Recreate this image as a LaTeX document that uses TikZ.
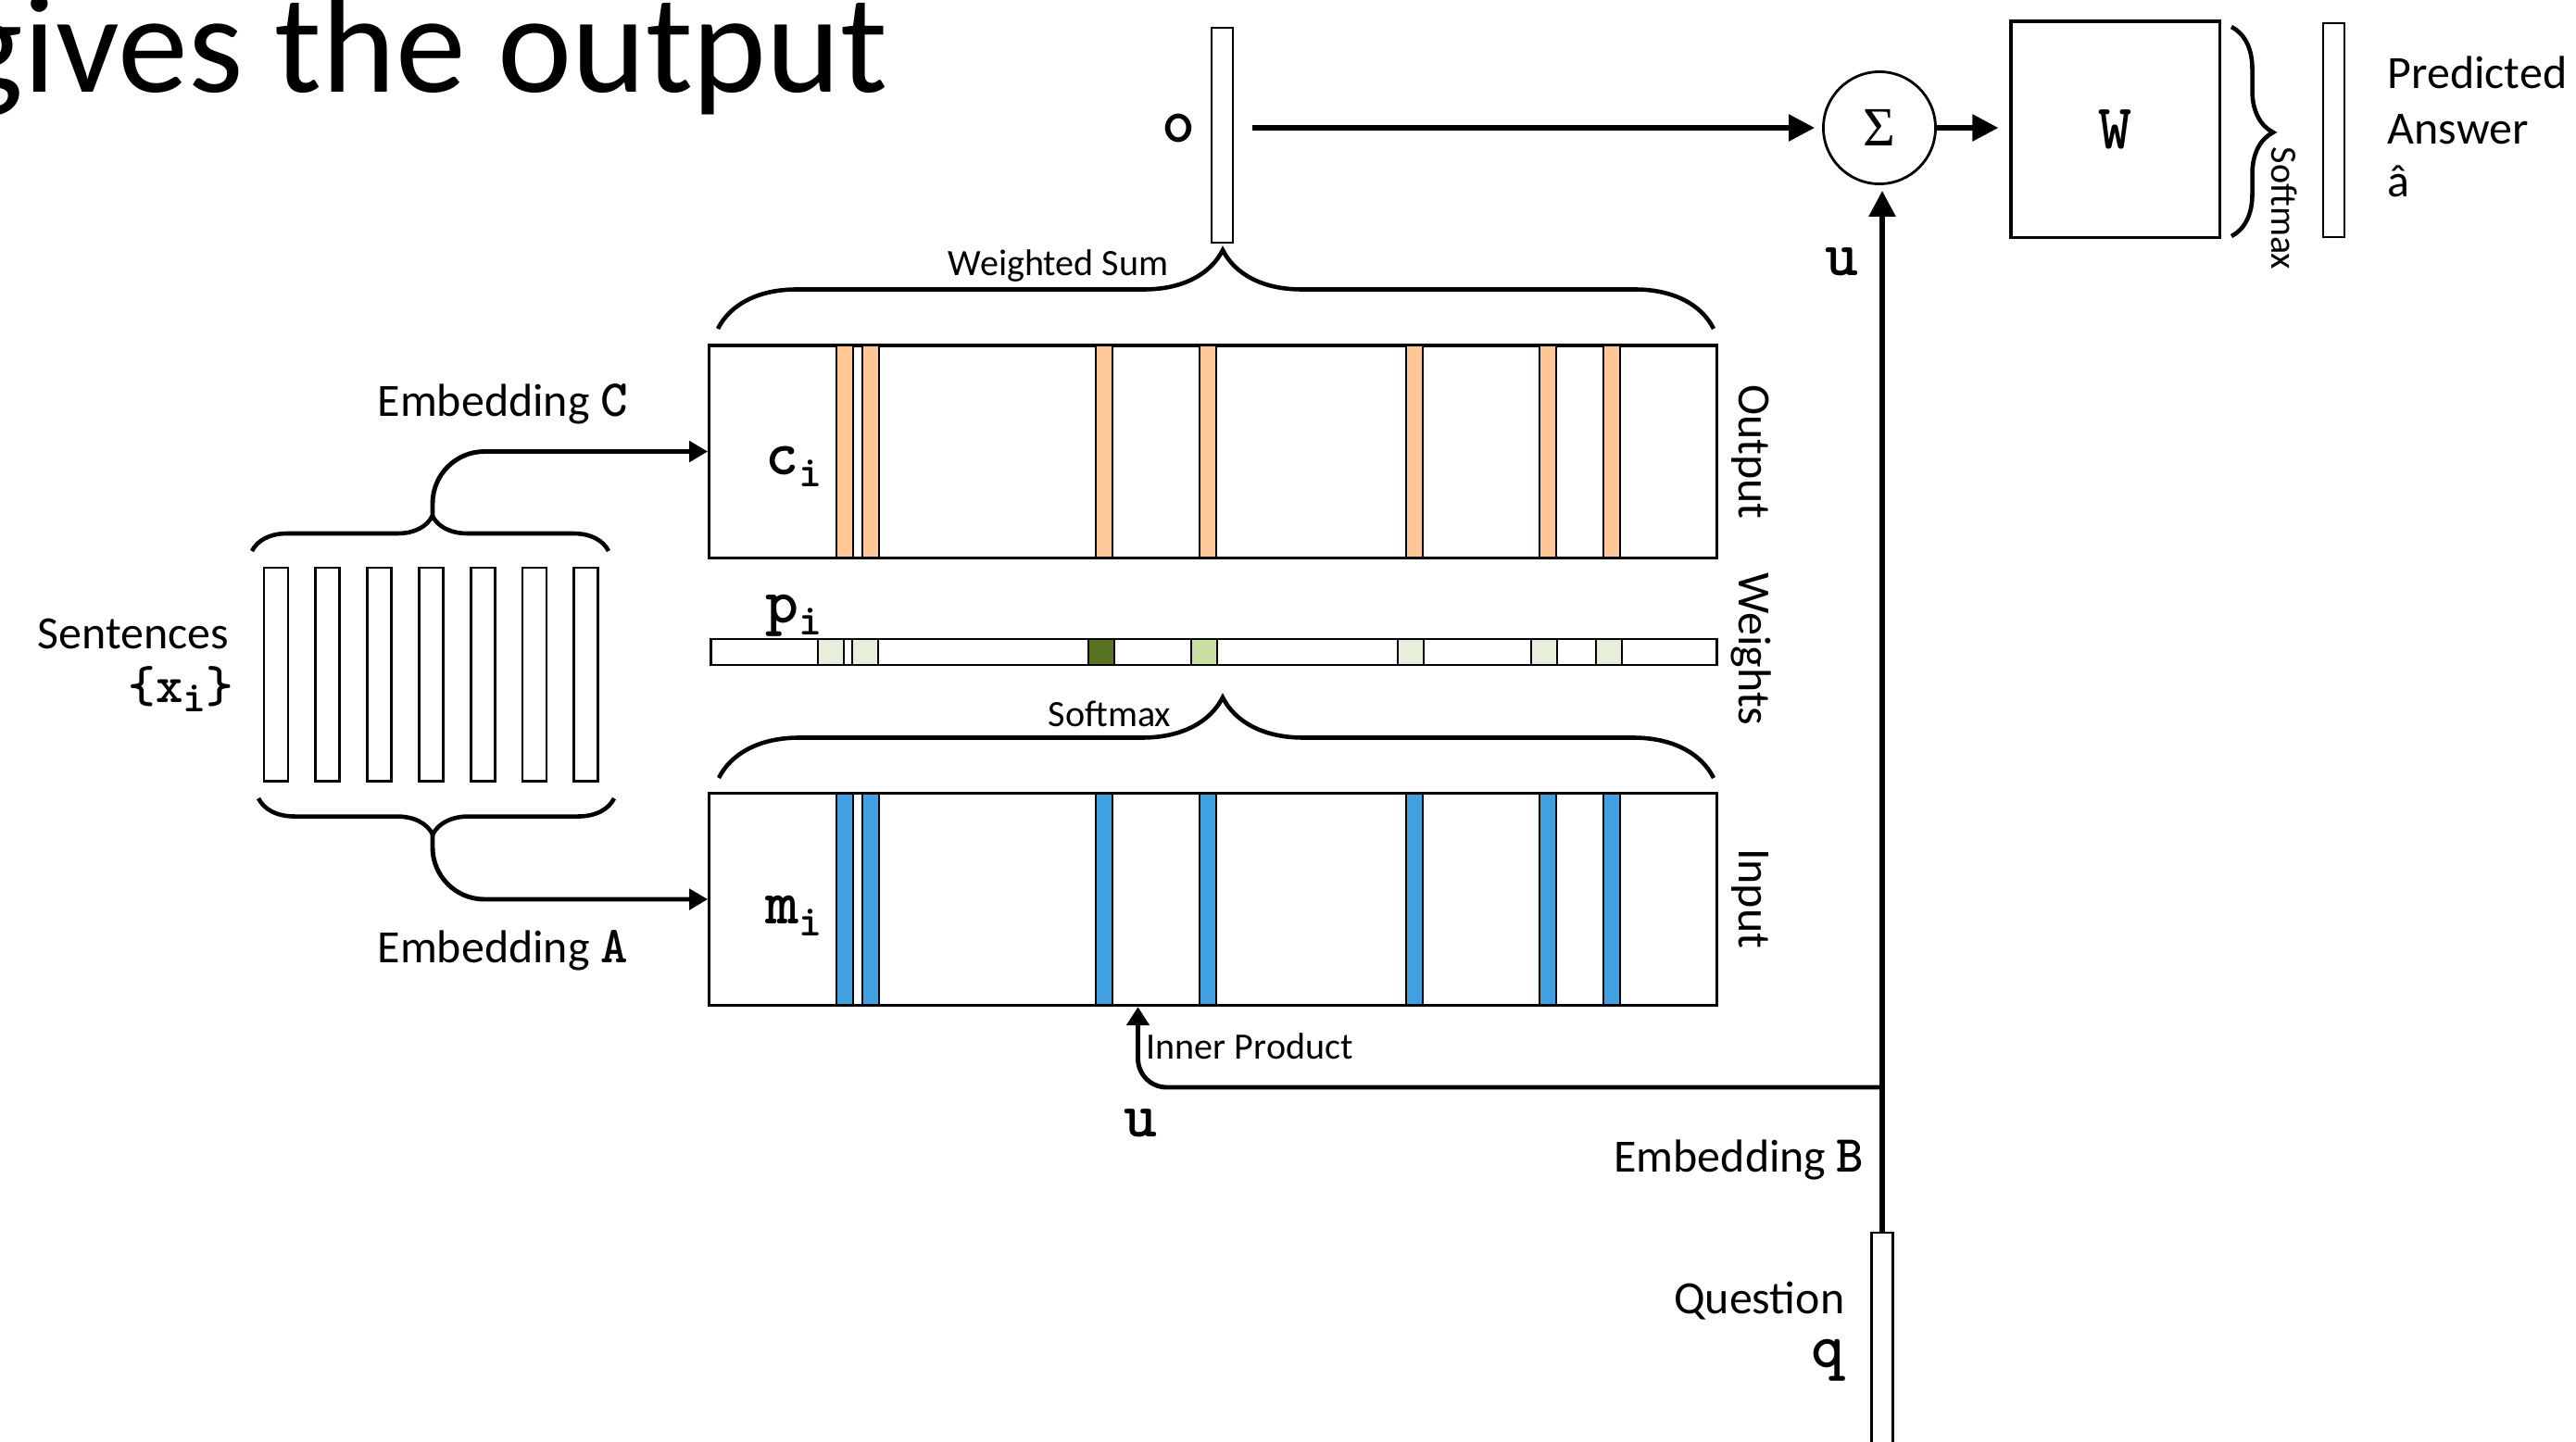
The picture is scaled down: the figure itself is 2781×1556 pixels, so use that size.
\documentclass[tikz,border=0pt]{standalone}
\usepackage{fontspec}
\setmainfont{Carlito}
\newfontfamily\grkfont{Liberation Serif}
\usetikzlibrary{arrows.meta,calc,decorations.pathreplacing}
\definecolor{OutFill}{RGB}{255,198,150}
\definecolor{InFill} {RGB}{64,160,224}
\definecolor{WLight} {RGB}{232,238,220}
\definecolor{WMid}   {RGB}{202,222,164}
\definecolor{WDark}  {RGB}{88,114,34}
\newcommand{\titlefont}{\fontsize{43.2}{50}\selectfont}
\newcommand{\lblfont}{\fontsize{14.2}{17}\selectfont}
\newcommand{\smlfont}{\fontsize{11.4}{14}\selectfont}
\newcommand{\varfont}{\ttfamily\bfseries\fontsize{19.5}{21}\selectfont}
\newcommand{\lblvar}{\ttfamily\bfseries\fontsize{16}{17}\selectfont}
\newcommand{\idxfont}{\ttfamily\bfseries\fontsize{13.5}{14}\selectfont}
\newcommand{\vsym}[2]{{\varfont #1}\raisebox{-0.13cm}{\idxfont #2}}
\tikzset{
  mem_box/.style={rectangle,draw,line width=0.9pt,inner sep=0pt,minimum width=10.87cm,minimum height=2.29cm},
  sent_box/.style={rectangle,draw,line width=0.8pt,inner sep=0pt,minimum width=0.26cm,minimum height=2.30cm},
  vec_box/.style={rectangle,draw,line width=0.8pt,inner sep=0pt,minimum width=0.23cm},
  w_box/.style={rectangle,draw,line width=0.9pt,inner sep=0pt,minimum width=2.25cm,minimum height=2.33cm},
  sum_nd/.style={circle,draw,line width=0.8pt,inner sep=0pt,minimum size=1.21cm},
  wbar/.style={rectangle,draw,line width=0.8pt,inner sep=0pt,minimum width=10.85cm,minimum height=0.28cm},
  stripe/.style={draw=black,line width=0.7pt},
  cell/.style={draw=black,line width=0.7pt},
  brc/.style={decorate,line width=1.3pt},
  arr_big/.style={-{Triangle[length=0.28cm,width=0.28cm]},line width=1.6pt},
  arr_mid/.style={-{Triangle[length=0.2cm,width=0.24cm]},line width=1.4pt},
  arr_small/.style={-{Triangle[length=0.2cm,width=0.22cm]},line width=1.4pt},
  lbl/.style={font=\lblfont,inner sep=0pt},
  sml/.style={font=\smlfont,inner sep=0pt},
  var/.style={inner sep=0pt},
}

\begin{document}
\begin{tikzpicture}[x=0.01cm,y=-0.01cm]
\useasboundingbox (0,0) rectangle (2781,1556);

% title (cut by the page edge)
\node[anchor=base west,font=\titlefont,inner sep=0pt] (title) at (-47,99) {gives the output};

% sentences
\foreach \i in {1,...,7}
  \node[sent_box] (s\i) at ({298+(\i-1)*55.8},728) {};
\node[lbl,anchor=base east] (sent) at (248,700) {Sentences};
\node[var,anchor=base east] (sentx) at (253,758) {\lblvar\{x\raisebox{-0.1cm}{\idxfont i}\}};

\draw[brc,decoration={brace,amplitude=0.38cm,aspect=0.506}] (272,595) -- (657,595);
\draw[brc,decoration={brace,amplitude=0.39cm,aspect=0.51}] (663,862) -- (279,862);
\coordinate (ctip) at (467,557);
\coordinate (atip) at (467,901);
\node[lbl,anchor=base west] (embC) at (407,449) {Embedding {\lblvar C}};
\node[lbl,anchor=base west] (embA) at (407,1039) {Embedding {\lblvar A}};

% output memory
\node[mem_box] (outbox) at (1309.5,487.5) {};
\foreach \sx in {903,931,1183,1295,1518,1662,1731}
  \draw[stripe,fill=OutFill] (\sx,373) rectangle ++(18,229);
\node[var,anchor=base west] (clab) at (826,512) {\vsym{c}{i}};

% weights
\node[wbar] (wbar) at (1310.5,704) {};
\foreach \cx/\cc in {883/WLight,920/WLight,1175/WDark,1286/WMid,1509/WLight,1653/WLight,1723/WLight}
  \draw[cell,fill=\cc] (\cx,690) rectangle ++(28,28);
\node[var,anchor=base west] (plab) at (826,672) {\vsym{p}{i}};

% input memory
\node[mem_box] (inbox) at (1309.5,971) {};
\foreach \sx in {903,931,1183,1295,1518,1662,1731}
  \draw[stripe,fill=InFill] (\sx,857) rectangle ++(18,228);
\node[var,anchor=base west] (mlab) at (826,997) {\vsym{m}{i}};

\node[lbl,rotate=-90,anchor=base] (outl) at (1877,488) {Output};
\node[lbl,rotate=-90,anchor=base] (wtl)  at (1877,701) {Weights};
\node[lbl,rotate=-90,anchor=base] (inl)  at (1877,970) {Input};

% braces over the memories
\draw[brc,decoration={brace,amplitude=0.85cm,aspect=0.507}] (775,355) -- (1850,355);
\node[sml,anchor=base east] (wsum) at (1262,297) {Weighted Sum};
\draw[brc,decoration={brace,amplitude=0.87cm,aspect=0.5065}] (776,840) -- (1850,840);
\node[sml,anchor=base] (smax) at (1198,784) {Softmax};

% output side
\node[vec_box,minimum height=2.32cm] (ovec) at (1319.5,146) {};
\node[var,anchor=base] (olab) at (1272,153) {\varfont o};
\node[sum_nd] (sigma) at (2029,138) {\grkfont\fontsize{17}{18}\selectfont Σ};
\node[w_box] (wbox) at (2283.5,139.5) {\varfont W};
\draw[brc,decoration={brace,amplitude=0.45cm,aspect=0.504}] (2409,29) -- (2409,255);
\node[sml,rotate=-90,anchor=base] (smax2) at (2452,225) {Softmax};
\node[vec_box,minimum height=2.31cm] (ansvec) at (2519.5,140.5) {};
\node[lbl,anchor=base west] (pred) at (2577,95) {Predicted};
\node[lbl,anchor=base west] (answ) at (2577,155) {Answer};
\node[lbl,anchor=base west] (ahat) at (2577,212) {â};
\node[var,anchor=base] (u1) at (1988,297) {\varfont u};

% question
\node[vec_box,minimum height=3cm] (qvec) at (2032,1481) {};
\node[lbl,anchor=base east] (qlab) at (1992,1418) {Question};
\node[var,anchor=base east] (qsym) at (1992,1476) {\varfont q};
\node[lbl,anchor=base east] (embB) at (2013,1265) {Embedding {\lblvar B}};
\coordinate (ujoin) at (2032,1174);
\node[var,anchor=base] (u2) at (1231,1227) {\varfont u};
\node[sml,anchor=base west] (iprod) at (1237,1143) {Inner Product};

% connectors
\draw[arr_small,rounded corners=0.56cm] (ctip) |- (outbox.west);
\draw[arr_small,rounded corners=0.56cm] (atip) |- (inbox.west);
\draw[arr_big,shorten <=0.2cm,shorten >=0.08cm] (ovec.east |- sigma.west) -- (sigma.west);
\draw[arr_big,shorten >=0.12cm] (sigma.east) -- (sigma.east -| wbox.west);
\draw[arr_big,shorten >=0.06cm] (qvec.north) -- (qvec.north |- sigma.south);
\draw[arr_mid,rounded corners=0.31cm] (ujoin) -| ($(inbox.south)+(-81,0)$);

\end{tikzpicture}
\end{document}
